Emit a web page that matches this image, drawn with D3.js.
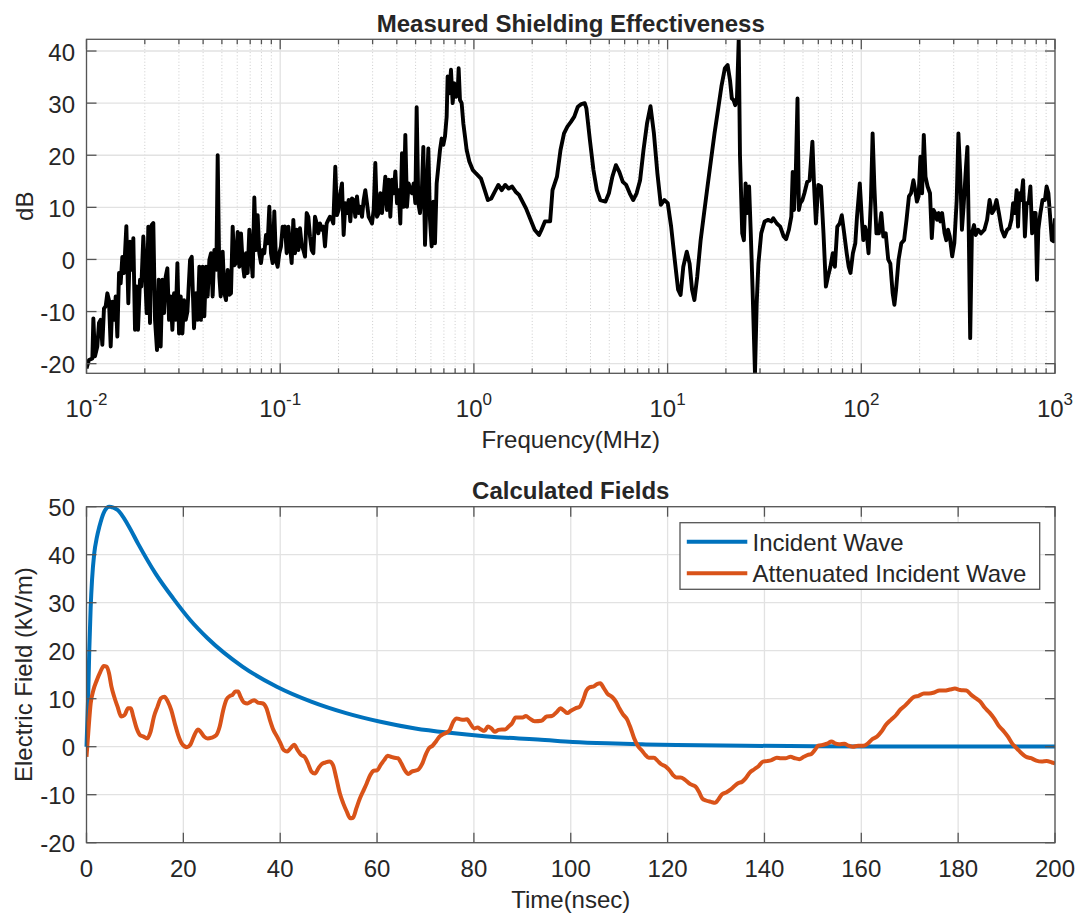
<!DOCTYPE html>
<html><head><meta charset="utf-8">
<script src="https://cdn.jsdelivr.net/npm/d3@7"></script>
<style>
body{margin:0;background:#fff;}
svg{display:block;}
</style></head><body>
<svg id="c" width="1078" height="914"></svg>
<script>
// ---------------- DATA ----------------
const topTitle = "Measured Shielding Effectiveness";
const topXLabel = "Frequency(MHz)";
const topYLabel = "dB";
const botTitle = "Calculated Fields";
const botXLabel = "Time(nsec)";
const botYLabel = "Electric Field (kV/m)";
const seriesNames = ["Incident Wave", "Attenuated Incident Wave"];

const freqTicks = [0.01, 0.1, 1, 10, 100, 1000];
const dbTicks = [-20, -10, 0, 10, 20, 30, 40];
const dbLimits = [-21.85, 42.25];
const timeTicks = [0, 20, 40, 60, 80, 100, 120, 140, 160, 180, 200];
const fieldTicks = [-20, -10, 0, 10, 20, 30, 40, 50];

const freqMHz = [
0.0100,0.01030,0.01072,0.01085,0.01106,0.01137,0.01160,0.01183,0.01207,0.01231,
0.01256,0.01281,0.01306,0.01333,0.01360,0.01387,0.01415,0.01443,0.01472,0.01501,
0.01531,0.01562,0.01606,0.01644,0.01677,0.01711,0.01745,0.01780,0.01816,0.01845,
0.01889,0.01919,0.01965,0.02004,0.02044,0.02085,0.02127,0.02170,0.02213,0.02258,
0.02312,0.02359,0.02415,0.02463,0.02513,0.02563,0.02615,0.02667,0.02721,0.02775,
0.02831,0.02888,0.02946,0.03005,0.03065,0.03127,0.03189,0.03253,0.03318,0.03425,
0.03494,0.03589,0.03675,0.03749,0.03824,0.03900,0.03978,0.04058,0.04140,0.04222,
0.04307,0.04393,0.04481,0.04571,0.04682,0.04756,0.04851,0.04929,0.05047,0.05148,
0.05251,0.05356,0.05463,0.05572,0.05684,0.05797,0.05913,0.06032,0.06152,0.06275,
0.06401,0.06529,0.06659,0.06792,0.06928,0.07067,0.07208,0.07352,0.07499,0.07649,
0.07802,0.07958,0.08117,0.08279,0.08445,0.08614,0.08786,0.08962,0.09141,0.09324,
0.09510,0.09700,0.09894,0.10092,0.10294,0.10459,
0.1059,0.1080,0.1102,0.1124,0.1146,0.1169,0.1193,0.1216,0.1241,0.1265,
0.1291,0.1317,0.1343,0.1370,0.1397,0.1425,0.1454,0.1483,0.1512,0.1543,
0.1573,0.1605,0.1637,0.1670,0.1703,0.1737,0.1772,0.1807,0.1843,0.1880,
0.1925,0.1964,0.2003,0.2043,0.2084,0.2126,0.2169,0.2212,0.2256,0.2301,
0.2347,0.2394,0.2442,0.2491,0.2541,0.2592,0.2644,0.2697,0.2751,0.2806,
0.2862,0.2919,0.2978,0.3037,0.3098,0.3160,0.3223,0.3288,0.3354,0.3421,
0.3489,0.3559,0.3630,0.3703,0.3777,0.3853,0.3930,0.4008,0.4088,0.4170,
0.4254,0.4339,0.4426,0.4514,0.4605,0.4697,0.4791,0.4887,0.4984,0.5064,
0.5165,0.5269,0.5374,0.5482,0.5592,0.5704,0.5818,0.5934,0.6053,0.6174,
0.6297,0.6423,0.6552,0.6683,0.6817,0.6953,0.7092,0.7234,0.7320,0.7466,
0.7615,0.7768,0.7923,0.8081,0.8243,0.8342,0.8476,0.8645,0.8819,0.8995,
0.9175,0.9471,0.9854,1.025,
1.088,1.133,1.181,1.229,1.282,1.337,1.392,1.451,1.512,1.575,1.642,1.710,1.782,1.858,1.934,2.058,2.170,
2.234,2.326,2.475,2.546,2.685,2.800,2.919,3.039,3.168,3.299,3.440,3.585,3.733,3.809,3.971,4.140,4.311,4.494,4.780,
4.977,5.188,5.410,5.633,5.872,6.114,6.374,6.644,6.918,7.212,7.509,7.829,8.160,8.498,8.859,9.224,9.616,10.02,10.43,
10.88,11.33,11.67,12.05,12.56,12.99,13.37,13.75,14.22,14.81,15.43,16.07,16.75,17.47,18.21,18.96,19.76,20.41,21.00,
21.46,21.89,22.34,22.79,23.29,23.64,24.28,24.77,25.27,25.79,26.35,26.88,27.43,28.26,28.84,29.43,30.43,31.68,33.02,
34.43,35.13,36.63,38.14,39.76,40.91,42.29,43.52,44.25,44.94,45.91,46.84,47.62,48.42,49.65,50.84,52.57,54.10,55.92,
57.07,58.31,59.98,61.94,63.80,65.64,67.30,69.25,71.25,73.06,75.18,77.36,79.31,81.60,84.06,86.08,87.95,90.50,93.11,
95.02,98.22,100.7,102.4,104.5,106.6,109.0,112.1,114.4,116.8,119.7,123.2,126.9,129.9,133.7,137.7,141.2,145.2,148.2,
151.2,155.8,160.9,166.3,171.2,176.2,180.6,185.8,189.8,193.7,197.6,201.9,206.0,210.2,214.5,219.9,226.3,231.2,235.9,
240.7,245.9,250.9,256.0,261.3,269.2,274.7,280.3,286.3,294.6,302.1,310.8,317.2,324.1,330.7,337.4,347.2,353.0,358.9,
364.9,372.4,381.8,389.6,400.9,414.4,432.0,446.1,459.6,472.9,484.3,498.9,513.4,530.7,548.0,566.5,580.9,595.6,607.8,
620.2,633.6,644.2,654.2,668.3,684.4,699.2,713.5,731.5,746.5,761.7,777.3,794.1,807.4,820.0,840.7,862.0,887.0,905.0,
924.6,943.5,962.7,983.6,1000
];
const shieldDb = [
-20.9,-19.3,-19.0,-11.3,-18.6,-16.7,-12.2,-11.6,-16.4,-9.4,
-9.0,-6.5,-7.8,-16.7,-8.1,-11.6,-7.1,-14.8,-2.6,-4.6,
0.5,-2.6,6.4,-8.4,3.4,-2.0,4.1,-13.5,-5.2,-13.5,
-3.9,-5.2,4.4,-2.0,-10.3,6.3,-12.2,6.6,7.0,-11.6,
-17.4,-3.9,-16.7,-3.9,-10.3,-3.3,-1.7,-11.6,-7.1,-13.5,
-6.5,-11.6,-0.7,-14.2,-7.1,-14.2,-7.8,-11.6,-10.0,-0.1,
0.5,-13.2,-6.5,-11.6,-1.4,-11.6,-1.4,-10.9,-1.4,-7.1,
-0.1,1.2,-7.1,1.8,-2.0,20.0,-3.3,-7.1,1.5,-6.5,
-7.8,-2.0,-6.8,-6.5,6.3,-1.1,-0.7,5.3,-1.4,5.0,
-0.7,-3.3,1.2,-2.6,5.7,0.9,-3.3,11.9,1.8,8.5,
1.2,-0.7,1.8,1.2,4.7,3.1,10.1,1.2,-0.7,9.2,
-0.1,-1.4,1.2,2.5,6.3,5.7,
6.3,1.2,6.3,2.5,-0.7,7.6,1.2,5.7,1.8,6.0,
2.8,1.8,0.55,8.9,8.2,4.4,1.8,1.2,8.2,6.9,
5.0,6.9,5.7,6.3,2.5,6.9,7.6,8.2,7.9,6.9,
17.8,8.5,9.5,12.7,14.6,4.7,10.8,8.9,11.4,7.3,
11.7,11.4,8.2,12.1,8.9,10.1,8.2,11.4,13.3,10.8,
8.2,7.6,6.9,9.5,18.5,8.2,8.9,12.7,8.9,12.1,
15.9,9.5,15.3,8.2,15.3,12.7,16.9,10.8,13.3,6.9,
20.4,10.1,23.9,10.1,14.6,13.3,12.7,14.6,10.8,29.2,
10.8,8.9,12.1,21.6,2.8,12.1,21.3,7.6,2.5,11.1,
3.1,14.6,17.8,21.0,23.2,22.0,23.6,27.4,35.1,31.9,
36.4,30.0,33.8,31.2,31.9,36.7,30.6,30.0,26.1,23.6,
21.0,18.8,17.2,16.5,
15.5,13.5,11.4,11.7,13.0,14.3,13.3,14.3,13.6,14.0,13.0,12.4,11.1,9.8,8.2,5.7,4.7,
5.7,7.3,7.3,13.3,15.9,21.0,24.2,25.5,26.4,27.4,29.3,29.8,30.0,29.0,22.9,17.2,13.3,11.4,11.1,
12.7,15.9,18.1,16.8,14.9,14.3,12.7,11.4,12.7,15.2,21.0,26.1,29.4,24.2,16.5,10.5,11.4,10.8,6.3,
0.0,-5.8,-6.8,-1.4,1.5,-0.8,-5.8,-7.8,-3.3,3.7,8.9,14.0,19.1,24.2,28.7,33.2,36.7,37.3,34.4,
30.9,30.6,29.6,30.6,42.3,20.0,5.0,3.7,14.6,8.9,14.0,5.0,-5.2,-22.0,-8.4,-0.8,5.0,7.3,7.6,
7.3,7.9,6.9,6.3,4.4,3.9,5.7,8.2,16.8,9.5,16.8,30.9,9.5,10.8,11.4,12.7,14.9,15.2,22.6,
14.0,6.9,14.3,14.0,5.0,-5.2,-3.3,-1.4,1.2,-1.4,6.3,6.9,8.5,5.0,1.2,-1.4,-2.6,1.2,3.1,
8.2,14.6,7.6,3.7,6.3,5.0,1.2,11.4,24.2,14.0,5.0,5.0,8.9,4.4,5.0,0.0,-0.8,-6.5,-8.7,
-5.8,0.0,3.1,3.7,7.6,12.1,12.7,15.2,13.3,11.1,12.1,19.7,12.7,23.9,15.9,14.0,12.7,4.1,9.5,
8.9,7.6,8.9,7.3,8.9,5.0,3.7,5.7,4.4,0.6,3.1,11.4,24.2,16.5,5.7,10.2,17.8,21.6,5.0,
-15.1,5.0,6.6,4.7,5.7,5.0,5.7,7.6,11.4,8.9,9.5,11.4,8.9,5.7,4.4,5.7,6.0,7.6,10.8,
8.9,13.3,6.3,12.7,11.4,15.2,4.4,10.8,10.8,14.0,5.0,8.9,8.9,-3.9,5.7,8.9,11.4,11.4,14.0,
12.7,8.2,3.7,3.5,7.9
];

const incidentTime = [0,0.36,0.57,0.86,1.14,1.6,2.14,2.65,3.5,4.7,6.43,8.57,10.7,14.3,17.9,21.4,25.0,32.2,39.3,46.4,53.6,60.7,67.9,75.0,82.2,89.3,93.2,100.4,107.5,114.7,121.8,136.1,150.4,170,200];
const incidentKV = [0,11.0,20.0,29.0,34.7,40.3,43.6,45.8,48.6,50.0,49.3,46.2,42.2,36.0,30.9,26.4,22.6,16.7,12.5,9.4,7.0,5.2,3.8,2.9,2.2,1.7,1.5,1.0,0.7,0.5,0.35,0.2,0.1,0.05,0.02];

const attenTime = [
0,0.36,0.86,1.43,2.15,2.86,3.58,4.15,4.65,5.15,5.72,6.43,7.15,7.86,8.58,9.15,9.65,10.37,11.08,11.79,
12.51,13.22,13.94,14.65,15.37,16.08,16.80,17.51,18.22,18.94,19.65,20.73,21.44,22.15,23.01,23.58,24.30,25.01,25.87,26.80,
27.51,28.23,28.94,29.66,30.16,30.73,31.30,31.80,32.52,33.23,33.95,34.66,35.37,36.45,37.16,37.87,38.59,39.30,40.02,40.73,
41.45,42.16,42.88,43.59,44.31,45.02,45.74,46.45,47.17,47.88,48.59,49.31,50.17,50.88,51.60,52.31,53.02,53.74,54.45,55.03,
55.74,56.45,57.17,57.88,58.60,59.31,60.03,60.74,61.46,62.17,62.88,63.60,64.31,65.03,65.74,66.46,67.17,67.89,68.60,69.31,
70.03,70.74,71.46,72.17,72.89,73.60,74.31,75.03,75.75,76.46,77.17,77.89,78.60,79.32,80.03,80.75,81.46,82.18,82.89,83.61,
84.32,85.04,85.75,86.46,87.18,87.89,88.61,89.32,90.04,90.75,91.47,92.54,93.95,95.03,96.10,97.17,97.88,98.60,99.31,100.03,
100.96,101.81,102.53,103.24,103.96,104.82,105.53,106.10,106.82,107.53,108.60,109.32,110.03,110.75,111.68,112.39,113.11,113.96,114.68,115.39,
116.11,117.18,117.89,118.61,119.68,120.39,121.11,121.82,122.68,123.61,124.68,125.75,126.47,127.18,127.90,128.97,129.82,130.40,131.25,132.18,
132.90,133.83,134.54,135.40,136.11,136.97,137.90,138.83,139.68,140.54,141.47,142.54,143.40,144.33,145.40,146.26,147.19,148.12,148.98,149.69,
150.41,151.12,152.19,153.12,153.84,154.55,155.41,156.48,157.41,158.26,159.33,160.41,161.26,162.19,163.26,164.12,165.05,166.12,167.19,168.13,
168.98,169.84,170.77,171.84,172.91,173.98,175.06,176.13,177.20,178.27,179.34,180.41,181.70,182.70,183.63,184.56,185.42,186.49,187.42,188.28,
189.35,190.28,191.14,191.85,192.92,194.00,195.07,196.14,197.21,198.28,199.35,200
];
const attenKV = [
-2.1,2.8,9.0,11.8,13.9,15.6,16.8,16.7,15.3,12.5,10.4,8.3,6.3,6.6,8.0,8.0,6.3,3.8,2.4,2.1,
1.7,3.1,6.3,8.3,10.1,10.4,9.4,7.6,4.9,2.4,0.7,-0.1,0.4,2.1,3.6,3.1,2.1,1.7,1.9,2.4,
4.2,7.6,9.9,10.6,10.8,11.5,11.5,10.4,9.2,9.0,9.4,9.7,9.2,9.0,8.0,5.6,3.5,2.2,0.8,-0.7,
-1.0,-0.3,0.4,-0.7,-1.7,-2.1,-3.5,-5.2,-5.6,-4.5,-3.6,-3.3,-3.1,-3.8,-6.6,-9.7,-11.8,-13.5,-14.9,-14.8,
-12.8,-10.8,-9.2,-7.6,-5.9,-5.0,-4.9,-3.8,-2.8,-1.9,-2.1,-2.3,-2.4,-3.5,-4.9,-5.7,-5.2,-5.0,-4.7,-3.6,
-1.7,-0.3,0.2,1.1,2.1,2.6,2.9,3.5,5.2,5.9,5.7,5.6,5.7,4.7,3.8,4.0,3.6,3.3,4.2,3.8,
3.1,3.5,3.6,3.6,4.2,4.9,6.1,6.1,6.1,6.4,5.9,5.3,5.4,6.3,6.4,7.3,8.0,7.5,7.0,7.5,
8.0,8.3,9.7,11.7,12.4,12.6,13.1,13.2,12.2,11.1,10.3,9.4,8.0,6.8,5.6,3.8,1.7,0.0,-0.8,-1.7,
-2.3,-2.3,-2.9,-3.6,-4.2,-4.9,-5.9,-6.4,-6.4,-6.9,-7.8,-8.3,-9.4,-10.8,-11.2,-11.5,-11.7,-11.1,-9.9,-9.5,
-9.0,-8.2,-7.6,-7.3,-6.6,-5.4,-4.7,-4.0,-3.1,-3.0,-2.8,-2.3,-2.4,-2.4,-2.1,-2.4,-2.6,-2.1,-1.7,-1.5,
-0.7,0.2,0.4,0.7,1.1,0.7,0.5,0.6,0.2,0.0,0.2,0.2,0.6,1.5,2.1,3.1,4.5,5.6,6.6,7.8,
8.5,9.4,10.3,10.6,11.1,11.1,11.3,11.7,11.7,11.9,12.1,11.8,11.7,10.8,10.1,9.4,8.2,7.1,5.9,4.5,
3.3,2.1,0.7,-0.1,-1.2,-2.1,-2.4,-2.9,-3.1,-3.0,-3.3,-3.5
];

// ---------------- DRAWING ----------------
const W = 1078, H = 914;
const FONT = '"Liberation Sans", Arial, Helvetica, sans-serif';
const TXT = "#262626", AXC = "#555555", GRID = "#e2e2e2", MINOR = "#cccccc";
const FS = 24;

const svg = d3.select("#c");
svg.append("rect").attr("width", W).attr("height", H).attr("fill", "#fff");
const defs = svg.append("defs");

function clip(id, b) {
  defs.append("clipPath").attr("id", id).append("rect")
    .attr("x", b.l).attr("y", b.t).attr("width", b.r - b.l).attr("height", b.b - b.t);
}

function txt(g, x, y, s, opts = {}) {
  return g.append("text").attr("x", x).attr("y", y).text(s)
    .attr("font-family", FONT).attr("font-size", opts.fs || FS)
    .attr("font-weight", opts.bold ? "bold" : "normal")
    .attr("fill", TXT).attr("text-anchor", opts.anchor || "middle");
}

function box(g, b) {
  g.append("rect").attr("x", b.l).attr("y", b.t).attr("width", b.r - b.l).attr("height", b.b - b.t)
    .attr("fill", "none").attr("stroke", AXC).attr("stroke-width", 1.3);
}
function vtick(g, x, b, len) {
  g.append("line").attr("x1", x).attr("x2", x).attr("y1", b.b).attr("y2", b.b - len).attr("stroke", AXC).attr("stroke-width", 1.3);
  g.append("line").attr("x1", x).attr("x2", x).attr("y1", b.t).attr("y2", b.t + len).attr("stroke", AXC).attr("stroke-width", 1.3);
}
function htick(g, y, b, len) {
  g.append("line").attr("y1", y).attr("y2", y).attr("x1", b.l).attr("x2", b.l + len).attr("stroke", AXC).attr("stroke-width", 1.3);
  g.append("line").attr("y1", y).attr("y2", y).attr("x1", b.r).attr("x2", b.r - len).attr("stroke", AXC).attr("stroke-width", 1.3);
}

// ---- top panel
const T = {l: 86.5, r: 1055, t: 39.3, b: 373.3};
const xT = d3.scaleLog().domain([freqTicks[0], freqTicks[freqTicks.length - 1]]).range([T.l, T.r]);
const yT = d3.scaleLinear().domain(dbLimits).range([T.b, T.t]);
clip("clipT", T);
const gT = svg.append("g");
const allLog = xT.ticks();
const minorT = allLog.filter(v => Math.abs(Math.log10(v) - Math.round(Math.log10(v))) > 1e-6);

gT.selectAll(".mg").data(minorT).join("line")
  .attr("x1", d => xT(d)).attr("x2", d => xT(d)).attr("y1", T.t).attr("y2", T.b)
  .attr("stroke", MINOR).attr("stroke-width", 1).attr("stroke-dasharray", "1,2.2");
gT.selectAll(".Mg").data(freqTicks).join("line")
  .attr("x1", d => xT(d)).attr("x2", d => xT(d)).attr("y1", T.t).attr("y2", T.b)
  .attr("stroke", GRID).attr("stroke-width", 1.3);
gT.selectAll(".hg").data(dbTicks).join("line")
  .attr("y1", d => yT(d)).attr("y2", d => yT(d)).attr("x1", T.l).attr("x2", T.r)
  .attr("stroke", GRID).attr("stroke-width", 1.3);

const seData = freqMHz.map((f, i) => [f, shieldDb[i]]);
gT.append("path").datum(seData)
  .attr("clip-path", "url(#clipT)")
  .attr("d", d3.line().x(d => xT(d[0])).y(d => yT(d[1])))
  .attr("fill", "none").attr("stroke", "#000").attr("stroke-width", 3.9)
  .attr("stroke-linejoin", "round");

box(gT, T);
minorT.forEach(v => vtick(gT, xT(v), T, 5));
freqTicks.forEach(v => vtick(gT, xT(v), T, 10));
dbTicks.forEach(v => htick(gT, yT(v), T, 10));

dbTicks.forEach(v => txt(gT, 75, yT(v) + 9.5, String(v), {anchor: "end"}));
freqTicks.forEach(v => {
  const t = gT.append("text").attr("x", xT(v)).attr("y", 416.5)
    .attr("font-family", FONT).attr("font-size", FS).attr("fill", TXT).attr("text-anchor", "middle");
  t.append("tspan").text("10");
  t.append("tspan").attr("dy", -12).attr("font-size", 17).text(String(Math.round(Math.log10(v))));
});
txt(gT, (T.l + T.r) / 2, 32, topTitle, {bold: true});
txt(gT, (T.l + T.r) / 2, 448, topXLabel);
txt(gT, 0, 0, topYLabel).attr("transform", `translate(33,${(T.t + T.b) / 2}) rotate(-90)`);

// ---- bottom panel
const B = {l: 86.5, r: 1055, t: 506.7, b: 842.7};
const xB = d3.scaleLinear().domain([timeTicks[0], timeTicks[timeTicks.length - 1]]).range([B.l, B.r]);
const yB = d3.scaleLinear().domain([fieldTicks[0], fieldTicks[fieldTicks.length - 1]]).range([B.b, B.t]);
clip("clipB", B);
const gB = svg.append("g");
gB.selectAll(".vg").data(timeTicks).join("line")
  .attr("x1", d => xB(d)).attr("x2", d => xB(d)).attr("y1", B.t).attr("y2", B.b)
  .attr("stroke", GRID).attr("stroke-width", 1.3);
gB.selectAll(".hg").data(fieldTicks).join("line")
  .attr("y1", d => yB(d)).attr("y2", d => yB(d)).attr("x1", B.l).attr("x2", B.r)
  .attr("stroke", GRID).attr("stroke-width", 1.3);

const lineB = d3.line().x(d => xB(d[0])).y(d => yB(d[1])).curve(d3.curveMonotoneX);
const colors = ["#0072BD", "#D95319"];
gB.append("path").datum(incidentTime.map((t, i) => [t, incidentKV[i]]))
  .attr("d", lineB)
  .attr("fill", "none").attr("stroke", colors[0]).attr("stroke-width", 4).attr("stroke-linejoin", "round");
gB.append("path").datum(attenTime.map((t, i) => [t, attenKV[i]]))
  .attr("clip-path", "url(#clipB)").attr("d", lineB)
  .attr("fill", "none").attr("stroke", colors[1]).attr("stroke-width", 4).attr("stroke-linejoin", "round");

box(gB, B);
timeTicks.forEach(v => vtick(gB, xB(v), B, 10));
fieldTicks.forEach(v => htick(gB, yB(v), B, 10));
fieldTicks.forEach(v => txt(gB, 75, yB(v) + 9.5, String(v), {anchor: "end"}));
timeTicks.forEach(v => txt(gB, xB(v), 876.5, String(v)));
txt(gB, (B.l + B.r) / 2, 498.5, botTitle, {bold: true});
txt(gB, (B.l + B.r) / 2, 907.5, botXLabel);
txt(gB, 0, 0, botYLabel).attr("transform", `translate(32,${(B.t + B.b) / 2}) rotate(-90)`);

// legend
const L = {x: 680, y: 522.7, w: 359.7, h: 66.6};
gB.append("rect").attr("x", L.x).attr("y", L.y).attr("width", L.w).attr("height", L.h)
  .attr("fill", "#fff").attr("stroke", AXC).attr("stroke-width", 1.3);
const rows = [541.7, 573.3];
seriesNames.forEach((n, i) => {
  gB.append("line").attr("x1", 686.8).attr("x2", 747.3).attr("y1", rows[i]).attr("y2", rows[i])
    .attr("stroke", colors[i]).attr("stroke-width", 4);
  txt(gB, 752.5, rows[i] + 9, n, {anchor: "start"});
});
</script>
</body></html>
